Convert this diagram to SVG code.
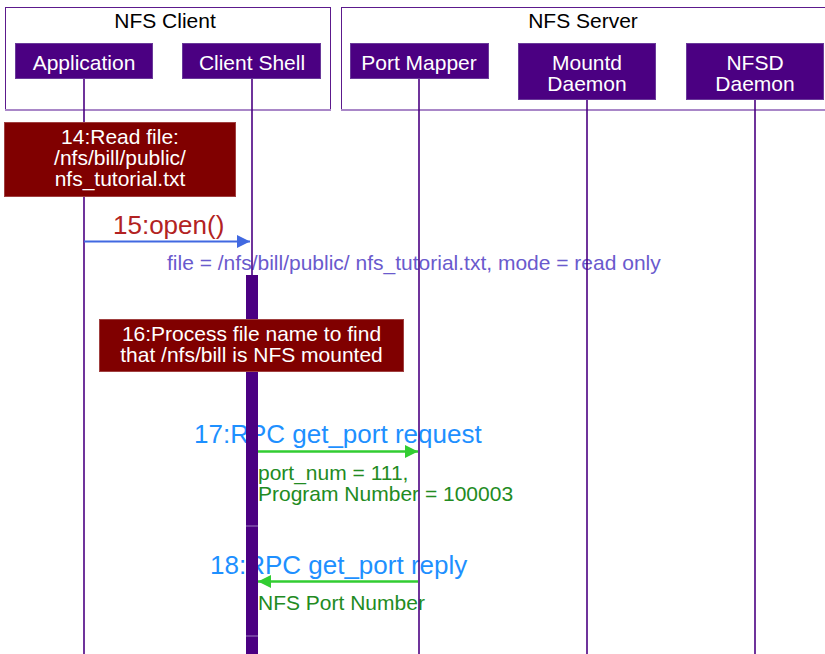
<svg xmlns="http://www.w3.org/2000/svg" width="825" height="654" viewBox="0 0 825 654">
<defs>
<style>
text{font-family:"Liberation Sans",Arial,sans-serif}
.grp{fill:#fff;stroke:#5c1a8c;stroke-width:1}
.grpb{stroke:#a987c8;stroke-width:2}
.gt{font-size:21px;fill:#000;text-anchor:middle}
.obj{fill:#4b0082;stroke:#6a3a9a;stroke-width:1}
.ot{font-size:21px;fill:#fff;text-anchor:middle}
.life{stroke:#4b0082;stroke-width:1.6}
.note{fill:#800000;stroke:#a04040;stroke-width:1}
.nt{font-size:21px;fill:#fff;text-anchor:middle}
.big{font-size:26px}
.sm{font-size:21px}
</style>
<marker id="ahBlue" viewBox="0 0 10 10" refX="10" refY="5" markerWidth="17" markerHeight="13" markerUnits="userSpaceOnUse" orient="auto"><path d="M0,0 L10,5 L0,10 z" fill="#4169e1"/></marker>
<marker id="ahGreen" viewBox="0 0 10 10" refX="10" refY="5" markerWidth="17" markerHeight="13" markerUnits="userSpaceOnUse" orient="auto"><path d="M0,0 L10,5 L0,10 z" fill="#32cd32"/></marker>
</defs>
<rect width="825" height="654" fill="#fff"/>
<g id="grp-client">
<rect class="grp" x="5.5" y="7.5" width="325" height="102.5"/>
<line class="grpb" x1="5" y1="110" x2="331" y2="110"/>
<text class="gt" x="165" y="28">NFS Client</text>
</g>
<g id="grp-server">
<rect class="grp" x="341.5" y="7.5" width="490" height="102.5"/>
<line class="grpb" x1="341" y1="110" x2="825" y2="110"/>
<text class="gt" x="583" y="28">NFS Server</text>
</g>
<g id="connectors">
<text class="big" x="113" y="234" fill="#b22222">15:open()</text>
<text class="sm" x="167" y="270" fill="#6a5acd">file = /nfs/bill/public/ nfs_tutorial.txt, mode = read only</text>
<text class="big" x="194" y="443" fill="#1e90ff">17:RPC get_port request</text>
<text class="sm" x="258" y="480" fill="#228b22">port_num = 111,</text>
<text class="sm" x="258" y="501" fill="#228b22">Program Number = 100003</text>
<text class="big" x="210" y="574" fill="#1e90ff">18:RPC get_port reply</text>
<text class="sm" x="258" y="610" fill="#228b22">NFS Port Number</text>
</g>
<g id="application">
<line class="life" x1="84" y1="79" x2="84" y2="654"/>
<rect class="obj" x="15.5" y="43.5" width="137" height="35"/>
<text class="ot" x="84" y="69.5">Application</text>
</g>
<g id="client-shell">
<line class="life" x1="252" y1="79" x2="252" y2="654"/>
<rect class="obj" x="182.5" y="43.5" width="138" height="35"/>
<text class="ot" x="252" y="69.5">Client Shell</text>
<rect x="246" y="275" width="12" height="379" fill="#4b0082"/>
<line x1="246" y1="526" x2="258" y2="526" stroke="#9c7cc0" stroke-width="1"/>
<line x1="246" y1="636" x2="258" y2="636" stroke="#9c7cc0" stroke-width="1"/>
</g>
<g id="port-mapper">
<line class="life" x1="419" y1="79" x2="419" y2="654"/>
<rect class="obj" x="350.5" y="43.5" width="138" height="35"/>
<text class="ot" x="419" y="69.5">Port Mapper</text>
</g>
<g id="mountd">
<line class="life" x1="587" y1="100" x2="587" y2="654"/>
<rect class="obj" x="518.5" y="43.5" width="137" height="56"/>
<text class="ot" x="587" y="69.5">Mountd</text>
<text class="ot" x="587" y="90.5">Daemon</text>
</g>
<g id="nfsd">
<line class="life" x1="755" y1="100" x2="755" y2="654"/>
<rect class="obj" x="686.5" y="43.5" width="137" height="56"/>
<text class="ot" x="755" y="69.5">NFSD</text>
<text class="ot" x="755" y="90.5">Daemon</text>
</g>
<g id="arrows">
<line x1="84" y1="241.5" x2="250" y2="241.5" stroke="#4169e1" stroke-width="2" marker-end="url(#ahBlue)"/>
<line x1="258" y1="451.5" x2="418" y2="451.5" stroke="#32cd32" stroke-width="2.5" marker-end="url(#ahGreen)"/>
<line x1="418" y1="581.5" x2="258" y2="581.5" stroke="#32cd32" stroke-width="2.5" marker-end="url(#ahGreen)"/>
</g>
<g id="note14">
<rect class="note" x="4.5" y="122.5" width="231" height="74"/>
<text class="nt" x="120" y="144">14:Read file:</text>
<text class="nt" x="120" y="165">/nfs/bill/public/</text>
<text class="nt" x="120" y="186">nfs_tutorial.txt</text>
</g>
<g id="note16">
<rect class="note" x="99.5" y="319.5" width="304" height="52"/>
<text class="nt" x="251.5" y="341">16:Process file name to find</text>
<text class="nt" x="251.5" y="362">that /nfs/bill is NFS mounted</text>
</g>
</svg>
